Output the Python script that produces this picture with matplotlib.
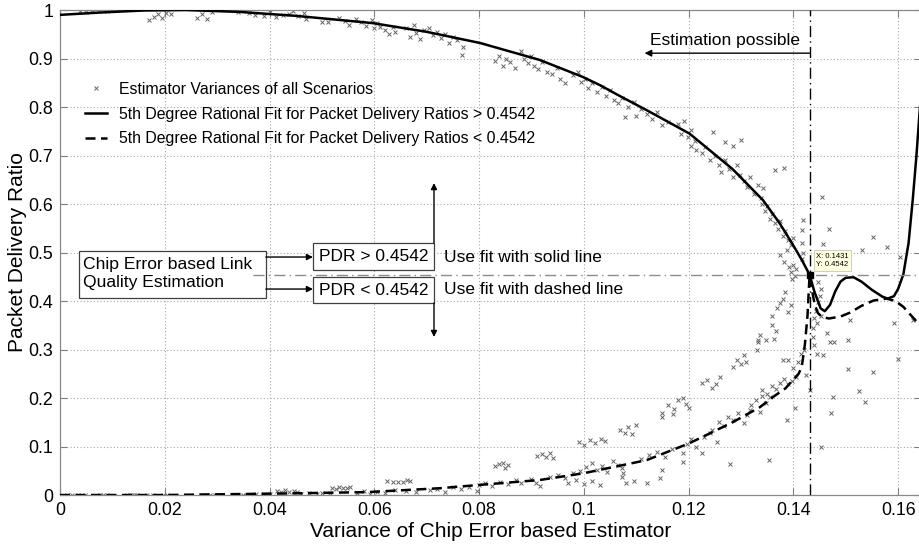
import matplotlib
matplotlib.use("Agg")
import matplotlib.pyplot as plt
from matplotlib.patches import Rectangle
import numpy as np

plt.rcParams['font.family'] = ['Liberation Sans', 'DejaVu Sans']

# measured estimator variances, upper (high PDR) branch
upper_x = [0.0038, 0.0050, 0.0062, 0.0075, 0.0090, 0.0170, 0.0180, 0.0188, 0.0195, 0.0203, 0.0212,
           0.0262, 0.0272, 0.0280, 0.0290, 0.0340, 0.0360, 0.0372, 0.0390, 0.0400, 0.0412, 0.0425,
           0.0438, 0.0445, 0.0455, 0.0465, 0.0470, 0.0500, 0.0512, 0.0532, 0.0545, 0.0552, 0.0565,
           0.0575, 0.0585, 0.0595, 0.0600, 0.0606, 0.0610, 0.0620, 0.0628, 0.0635, 0.0640, 0.0660,
           0.0668, 0.0675, 0.0680, 0.0688, 0.0695, 0.0705, 0.0712, 0.0720, 0.0728, 0.0735, 0.0742,
           0.0750, 0.0758, 0.0770, 0.0767, 0.0830, 0.0838, 0.0845, 0.0852, 0.0860, 0.0868, 0.0880,
           0.0885, 0.0893, 0.0900, 0.0905, 0.0912, 0.0920, 0.0930, 0.0940, 0.0948, 0.0955, 0.0965,
           0.0980, 0.0988, 0.0995, 0.1002, 0.1008, 0.1015, 0.1025, 0.1035, 0.1042, 0.1050, 0.1058,
           0.1065, 0.1072, 0.1078, 0.1085, 0.1095, 0.1100, 0.1110, 0.1120, 0.1130, 0.1140, 0.1150,
           0.1160, 0.1180, 0.1185, 0.1192, 0.1198, 0.1205, 0.1212, 0.1246, 0.1205, 0.1215, 0.1225,
           0.1232, 0.1240, 0.1250, 0.1258, 0.1270, 0.1285, 0.1300, 0.1262, 0.1270, 0.1278, 0.1285,
           0.1292, 0.1298, 0.1305, 0.1312, 0.1318, 0.1325, 0.1332, 0.1338, 0.1365, 0.1382, 0.1340,
           0.1345, 0.1350, 0.1355, 0.1360, 0.1365, 0.1370, 0.1375, 0.1380, 0.1385, 0.1390, 0.1395,
           0.1400, 0.1375, 0.1382, 0.1388, 0.1392, 0.1396, 0.1400, 0.1403, 0.1398, 0.1405, 0.1342,
           0.1416, 0.1416, 0.1418, 0.1418, 0.1416]
upper_y = [0.998, 0.996, 0.999, 0.997, 0.998, 0.980, 0.986, 0.991, 0.983, 0.994, 0.992,
           0.984, 0.992, 0.982, 0.996, 0.995, 0.993, 0.990, 0.988, 0.995, 0.985, 0.990,
           0.992, 0.998, 0.987, 0.994, 0.982, 0.975, 0.975, 0.984, 0.978, 0.970, 0.982,
           0.975, 0.968, 0.980, 0.962, 0.974, 0.965, 0.958, 0.950, 0.965, 0.955, 0.962,
           0.945, 0.970, 0.952, 0.940, 0.958, 0.962, 0.948, 0.955, 0.942, 0.950, 0.932,
           0.945, 0.938, 0.924, 0.907, 0.895, 0.905, 0.885, 0.900, 0.892, 0.880, 0.915,
           0.898, 0.890, 0.905, 0.885, 0.878, 0.892, 0.872, 0.868, 0.880, 0.858, 0.850,
           0.865, 0.872, 0.852, 0.858, 0.840, 0.850, 0.830, 0.842, 0.822, 0.835, 0.815,
           0.808, 0.818, 0.780, 0.800, 0.810, 0.782, 0.795, 0.785, 0.775, 0.790, 0.763,
           0.770, 0.765, 0.745, 0.772, 0.738, 0.752, 0.730, 0.748, 0.720, 0.712, 0.705,
           0.718, 0.690, 0.700, 0.680, 0.728, 0.720, 0.733, 0.665, 0.690, 0.672, 0.655,
           0.680, 0.660, 0.648, 0.635, 0.655, 0.620, 0.640, 0.612, 0.670, 0.674, 0.600,
           0.585, 0.595, 0.570, 0.580, 0.560, 0.548, 0.565, 0.535, 0.545, 0.525, 0.515,
           0.530, 0.495, 0.480, 0.505, 0.470, 0.460, 0.475, 0.452, 0.445, 0.465, 0.633,
           0.546, 0.520, 0.500, 0.567, 0.487]

# lower (low PDR) branch and the scattered points past the crossing
lower_x = [0.0013, 0.0023, 0.0034, 0.0048, 0.0076, 0.0082, 0.0090, 0.0128, 0.0133, 0.0138, 0.0142,
           0.0147, 0.0166, 0.0177, 0.0197, 0.0204, 0.0270, 0.0278, 0.0286, 0.0295, 0.0305, 0.0349,
           0.0356, 0.0363, 0.0375, 0.0390, 0.0400, 0.0414, 0.0422, 0.0430, 0.0438, 0.0446, 0.0452,
           0.0460, 0.0475, 0.0490, 0.0500, 0.0515, 0.0520, 0.0527, 0.0533, 0.0540, 0.0547, 0.0553,
           0.0567, 0.0580, 0.0592, 0.0605, 0.0620, 0.0640, 0.0660, 0.0680, 0.0624, 0.0635, 0.0645,
           0.0655, 0.0662, 0.0668, 0.0706, 0.0720, 0.0735, 0.0750, 0.0765, 0.0780, 0.0796, 0.0800,
           0.0812, 0.0825, 0.0840, 0.0855, 0.0870, 0.0880, 0.0830, 0.0838, 0.0845, 0.0850, 0.0855,
           0.0900, 0.0908, 0.0916, 0.0935, 0.0950, 0.0965, 0.0980, 0.0910, 0.0920, 0.0928, 0.0935,
           0.0942, 0.0970, 0.0985, 0.1000, 0.1015, 0.1030, 0.0992, 0.1005, 0.1015, 0.1025, 0.1035,
           0.1044, 0.0990, 0.1000, 0.1012, 0.1022, 0.1032, 0.1040, 0.1055, 0.1065, 0.1073, 0.1073,
           0.1075, 0.1080, 0.1095, 0.1120, 0.1145, 0.1150, 0.1070, 0.1078, 0.1085, 0.1092, 0.1100,
           0.1110, 0.1125, 0.1140, 0.1155, 0.1168, 0.1150, 0.1150, 0.1160, 0.1172, 0.1180, 0.1190,
           0.1195, 0.1200, 0.1170, 0.1190, 0.1190, 0.1197, 0.1205, 0.1215, 0.1225, 0.1230, 0.1240,
           0.1254, 0.1225, 0.1235, 0.1245, 0.1252, 0.1260, 0.1245, 0.1258, 0.1268, 0.1275, 0.1285,
           0.1295, 0.1305, 0.1312, 0.1317, 0.1279, 0.1285, 0.1292, 0.1300, 0.1305, 0.1310, 0.1320,
           0.1328, 0.1336, 0.1340, 0.1348, 0.1353, 0.1330, 0.1333, 0.1336, 0.1332, 0.1340, 0.1350,
           0.1355, 0.1360, 0.1366, 0.1374, 0.1382, 0.1390, 0.1398, 0.1406, 0.1387, 0.1403, 0.1400,
           0.1408, 0.1415, 0.1420, 0.1425, 0.1380, 0.1390, 0.1360, 0.1368, 0.1375, 0.1380, 0.1385,
           0.1390, 0.1395, 0.1359, 0.1363, 0.1348, 0.1367, 0.1437, 0.1440, 0.1445, 0.1437, 0.1440,
           0.1443, 0.1447, 0.1450, 0.1453, 0.1448, 0.1445, 0.1452, 0.1456, 0.1464, 0.1470, 0.1478,
           0.1505, 0.1508, 0.1431, 0.1475, 0.1471, 0.1504, 0.1525, 0.1536, 0.1553, 0.1599, 0.1592,
           0.1628, 0.1452, 0.1454, 0.1468, 0.1456, 0.1552, 0.1578, 0.1531, 0.1603]
lower_y = [0.000, 0.000, 0.000, 0.000, 0.000, 0.000, 0.000, 0.000, 0.000, 0.000, 0.000,
           0.000, 0.000, 0.000, 0.000, 0.000, 0.000, 0.000, 0.000, 0.001, 0.001, 0.001,
           0.001, 0.000, 0.002, 0.003, 0.002, 0.008, 0.006, 0.010, 0.007, 0.009, 0.006,
           0.003, 0.004, 0.002, 0.005, 0.004, 0.015, 0.013, 0.017, 0.015, 0.015, 0.016,
           0.005, 0.008, 0.003, 0.007, 0.004, 0.010, 0.008, 0.006, 0.029, 0.027, 0.027,
           0.027, 0.031, 0.029, 0.010, 0.013, 0.006, 0.016, 0.012, 0.017, 0.008, 0.021,
           0.025, 0.019, 0.027, 0.022, 0.030, 0.024, 0.060, 0.064, 0.066, 0.056, 0.062,
           0.033, 0.025, 0.018, 0.038, 0.042, 0.035, 0.045, 0.080, 0.085, 0.078, 0.087,
           0.076, 0.025, 0.030, 0.022, 0.028, 0.021, 0.050, 0.058, 0.066, 0.052, 0.060,
           0.048, 0.110, 0.104, 0.114, 0.107, 0.116, 0.112, 0.070, 0.062, 0.056, 0.037,
           0.045, 0.025, 0.028, 0.024, 0.035, 0.052, 0.135, 0.128, 0.140, 0.125, 0.144,
           0.075, 0.082, 0.088, 0.078, 0.094, 0.170, 0.160, 0.185, 0.178, 0.195, 0.200,
           0.188, 0.180, 0.168, 0.087, 0.068, 0.105, 0.115, 0.100, 0.087, 0.120, 0.128,
           0.110, 0.230, 0.238, 0.220, 0.228, 0.243, 0.135, 0.150, 0.142, 0.160, 0.155,
           0.170, 0.148, 0.165, 0.175, 0.065, 0.265, 0.278, 0.270, 0.288, 0.275, 0.185,
           0.195, 0.172, 0.205, 0.190, 0.072, 0.300, 0.315, 0.330, 0.320, 0.216, 0.209,
           0.202, 0.225, 0.218, 0.232, 0.240, 0.228, 0.236, 0.243, 0.155, 0.179, 0.262,
           0.275, 0.290, 0.300, 0.248, 0.278, 0.278, 0.370, 0.385, 0.395, 0.405, 0.418,
           0.378, 0.392, 0.350, 0.322, 0.320, 0.338, 0.326, 0.310, 0.290, 0.345, 0.365,
           0.380, 0.398, 0.410, 0.425, 0.440, 0.355, 0.370, 0.289, 0.334, 0.316, 0.316,
           0.320, 0.361, 0.216, 0.202, 0.169, 0.260, 0.214, 0.192, 0.254, 0.280, 0.355,
           0.361, 0.099, 0.615, 0.548, 0.518, 0.532, 0.511, 0.505, 0.491]

# 5th degree rational fits, sampled
fit_hi_x = [0.0, 0.008, 0.016, 0.024, 0.0344, 0.045, 0.0597, 0.070, 0.0802, 0.0916, 0.0998,
            0.1031, 0.1063, 0.1126, 0.1202, 0.1284, 0.1342, 0.1374, 0.1397, 0.1416, 0.1431,
            0.1440, 0.1452, 0.1460, 0.1470, 0.1480, 0.1490, 0.1500, 0.1515, 0.1530, 0.1550,
            0.1570, 0.1580, 0.1592, 0.1600, 0.1610, 0.1620, 0.1628, 0.1635, 0.1641, 0.1646]
fit_hi_y = [0.990, 0.995, 0.999, 1.000, 0.996, 0.988, 0.973, 0.955, 0.932, 0.897, 0.862,
            0.845, 0.826, 0.790, 0.745, 0.672, 0.608, 0.560, 0.520, 0.485, 0.4542,
            0.420, 0.385, 0.379, 0.392, 0.420, 0.440, 0.448, 0.449, 0.440, 0.423,
            0.409, 0.405, 0.410, 0.425, 0.455, 0.520, 0.610, 0.700, 0.790, 0.860]
fit_lo_x = [0.0, 0.020, 0.0267, 0.0414, 0.0586, 0.0725, 0.0802, 0.0916, 0.1000, 0.1120,
            0.1202, 0.1284, 0.1336, 0.1361, 0.1385, 0.1399, 0.1410, 0.1416, 0.1422, 0.1427,
            0.1431, 0.1436, 0.1441, 0.1447, 0.1455, 0.1468, 0.1490, 0.1508, 0.1530, 0.1553,
            0.1578, 0.1595, 0.1610, 0.1625, 0.1646]
fit_lo_y = [0.0, 0.0, 0.001, 0.003, 0.006, 0.014, 0.021, 0.031, 0.045, 0.072,
            0.107, 0.150, 0.181, 0.202, 0.220, 0.237, 0.250, 0.264, 0.310, 0.370,
            0.4542, 0.420, 0.392, 0.375, 0.367, 0.364, 0.368, 0.376, 0.390, 0.401,
            0.405, 0.400, 0.388, 0.370, 0.345]

pdr_split = 0.4542
var_split = 0.1431

fig = plt.figure(figsize=(9.2, 5.47), dpi=100)
ax = fig.add_axes([0.0652, 0.095, 0.9355, 0.8867])

grey = '#666666'
ax.plot(upper_x + lower_x, upper_y + lower_y, 'x', color=grey, ms=3.2, mew=0.7,
        label='Estimator Variances of all Scenarios', zorder=2)
ax.plot(fit_hi_x, fit_hi_y, '-', color='black', lw=1.8, zorder=3,
        label='5th Degree Rational Fit for Packet Delivery Ratios > 0.4542')
ax.plot(fit_lo_x, fit_lo_y, '--', color='black', lw=1.8, dashes=(4, 2.2), zorder=3,
        label='5th Degree Rational Fit for Packet Delivery Ratios < 0.4542')

# threshold lines
ax.axvline(var_split, color='black', lw=1.0, ls=(0, (8, 3, 1, 3)), zorder=4)
ax.plot([0.0368, 0.1646], [pdr_split, pdr_split], color='#8c8c8c', lw=1.0,
        ls=(0, (8, 3, 1, 3)), zorder=6)

ax.set_xlim(0, 0.1643)
ax.set_ylim(0, 1)
ax.set_xticks(np.arange(0, 0.161, 0.02))
ax.set_xticklabels(['0', '0.02', '0.04', '0.06', '0.08', '0.1', '0.12', '0.14', '0.16'])
ax.set_yticks(np.arange(0, 1.01, 0.1))
ax.set_yticklabels(['0', '0.1', '0.2', '0.3', '0.4', '0.5', '0.6', '0.7', '0.8', '0.9', '1'])
ax.tick_params(direction='in', length=5, width=0.8, color='#808080', labelsize=12.8,
               top=True, right=True, pad=5)
for sp in ax.spines.values():
    sp.set_color('#8a8a8a')
    sp.set_linewidth(0.9)
ax.grid(True, ls=(0, (1, 2)), color='#a8a8a8', lw=0.8)
ax.set_axisbelow(True)

ax.set_xlabel('Variance of Chip Error based Estimator', fontsize=15, labelpad=2)
ax.set_ylabel('Packet Delivery Ratio', fontsize=15, labelpad=1)

ax.legend(loc='upper left', bbox_to_anchor=(0.022, 0.865), frameon=False, fontsize=11.4,
          handlelength=1.4, handletextpad=0.7, labelspacing=0.62, borderaxespad=0)

# "Estimation possible" arrow to the left of the split
ax.annotate('', xy=(0.1116, 0.911), xytext=(var_split, 0.911),
            arrowprops=dict(arrowstyle='-|>', color='black', lw=1.0,
                            mutation_scale=10, shrinkA=0, shrinkB=0))
ax.text(0.1269, 0.938, 'Estimation possible', fontsize=12.5, ha='center', va='center')

# decision diagram
ax.add_patch(Rectangle((0.0036, 0.407), 0.0357, 0.097, facecolor='white',
                       edgecolor='#404040', lw=0.9, zorder=5))
ax.text(0.0044, 0.4567, 'Chip Error based Link\nQuality Estimation', fontsize=12.6,
        ha='left', va='center', linespacing=1.3, zorder=7)
for y0, y1, txt in [(0.4639, 0.5196, 'PDR > 0.4542'), (0.3959, 0.4495, 'PDR < 0.4542')]:
    ax.add_patch(Rectangle((0.0483, y0), 0.0231, y1 - y0, facecolor='white',
                           edgecolor='#404040', lw=0.9, zorder=7))
    ax.text(0.05985, (y0 + y1) / 2, txt, fontsize=12.5, ha='center', va='center', zorder=8)
for yy in (0.4907, 0.4247):
    ax.annotate('', xy=(0.0483, yy), xytext=(0.0393, yy),
                arrowprops=dict(arrowstyle='-|>', color='black', lw=1.0,
                                mutation_scale=9, shrinkA=0, shrinkB=0), zorder=8)
ax.annotate('', xy=(0.0714, 0.6433), xytext=(0.0714, 0.5196),
            arrowprops=dict(arrowstyle='-|>', color='black', lw=1.0,
                            mutation_scale=9, shrinkA=0, shrinkB=0), zorder=8)
ax.annotate('', xy=(0.0714, 0.3258), xytext=(0.0714, 0.3959),
            arrowprops=dict(arrowstyle='-|>', color='black', lw=1.0,
                            mutation_scale=9, shrinkA=0, shrinkB=0), zorder=8)
ax.text(0.0733, 0.4907, 'Use fit with solid line', fontsize=12.5, va='center', zorder=8)
ax.text(0.0733, 0.4247, 'Use fit with dashed line', fontsize=12.5, va='center', zorder=8)

# data tip at the crossing point
ax.plot([var_split], [pdr_split], 's', color='black', ms=4, zorder=9)
ax.text(0.1444, 0.4835, 'X: 0.1431\nY: 0.4542', fontsize=5.5, ha='left', va='center',
        linespacing=1.3, zorder=9,
        bbox=dict(boxstyle='square,pad=0.3', facecolor='#ffffe1', edgecolor='#c8c8a8', lw=0.6))

fig.savefig('out.png', dpi=100)
